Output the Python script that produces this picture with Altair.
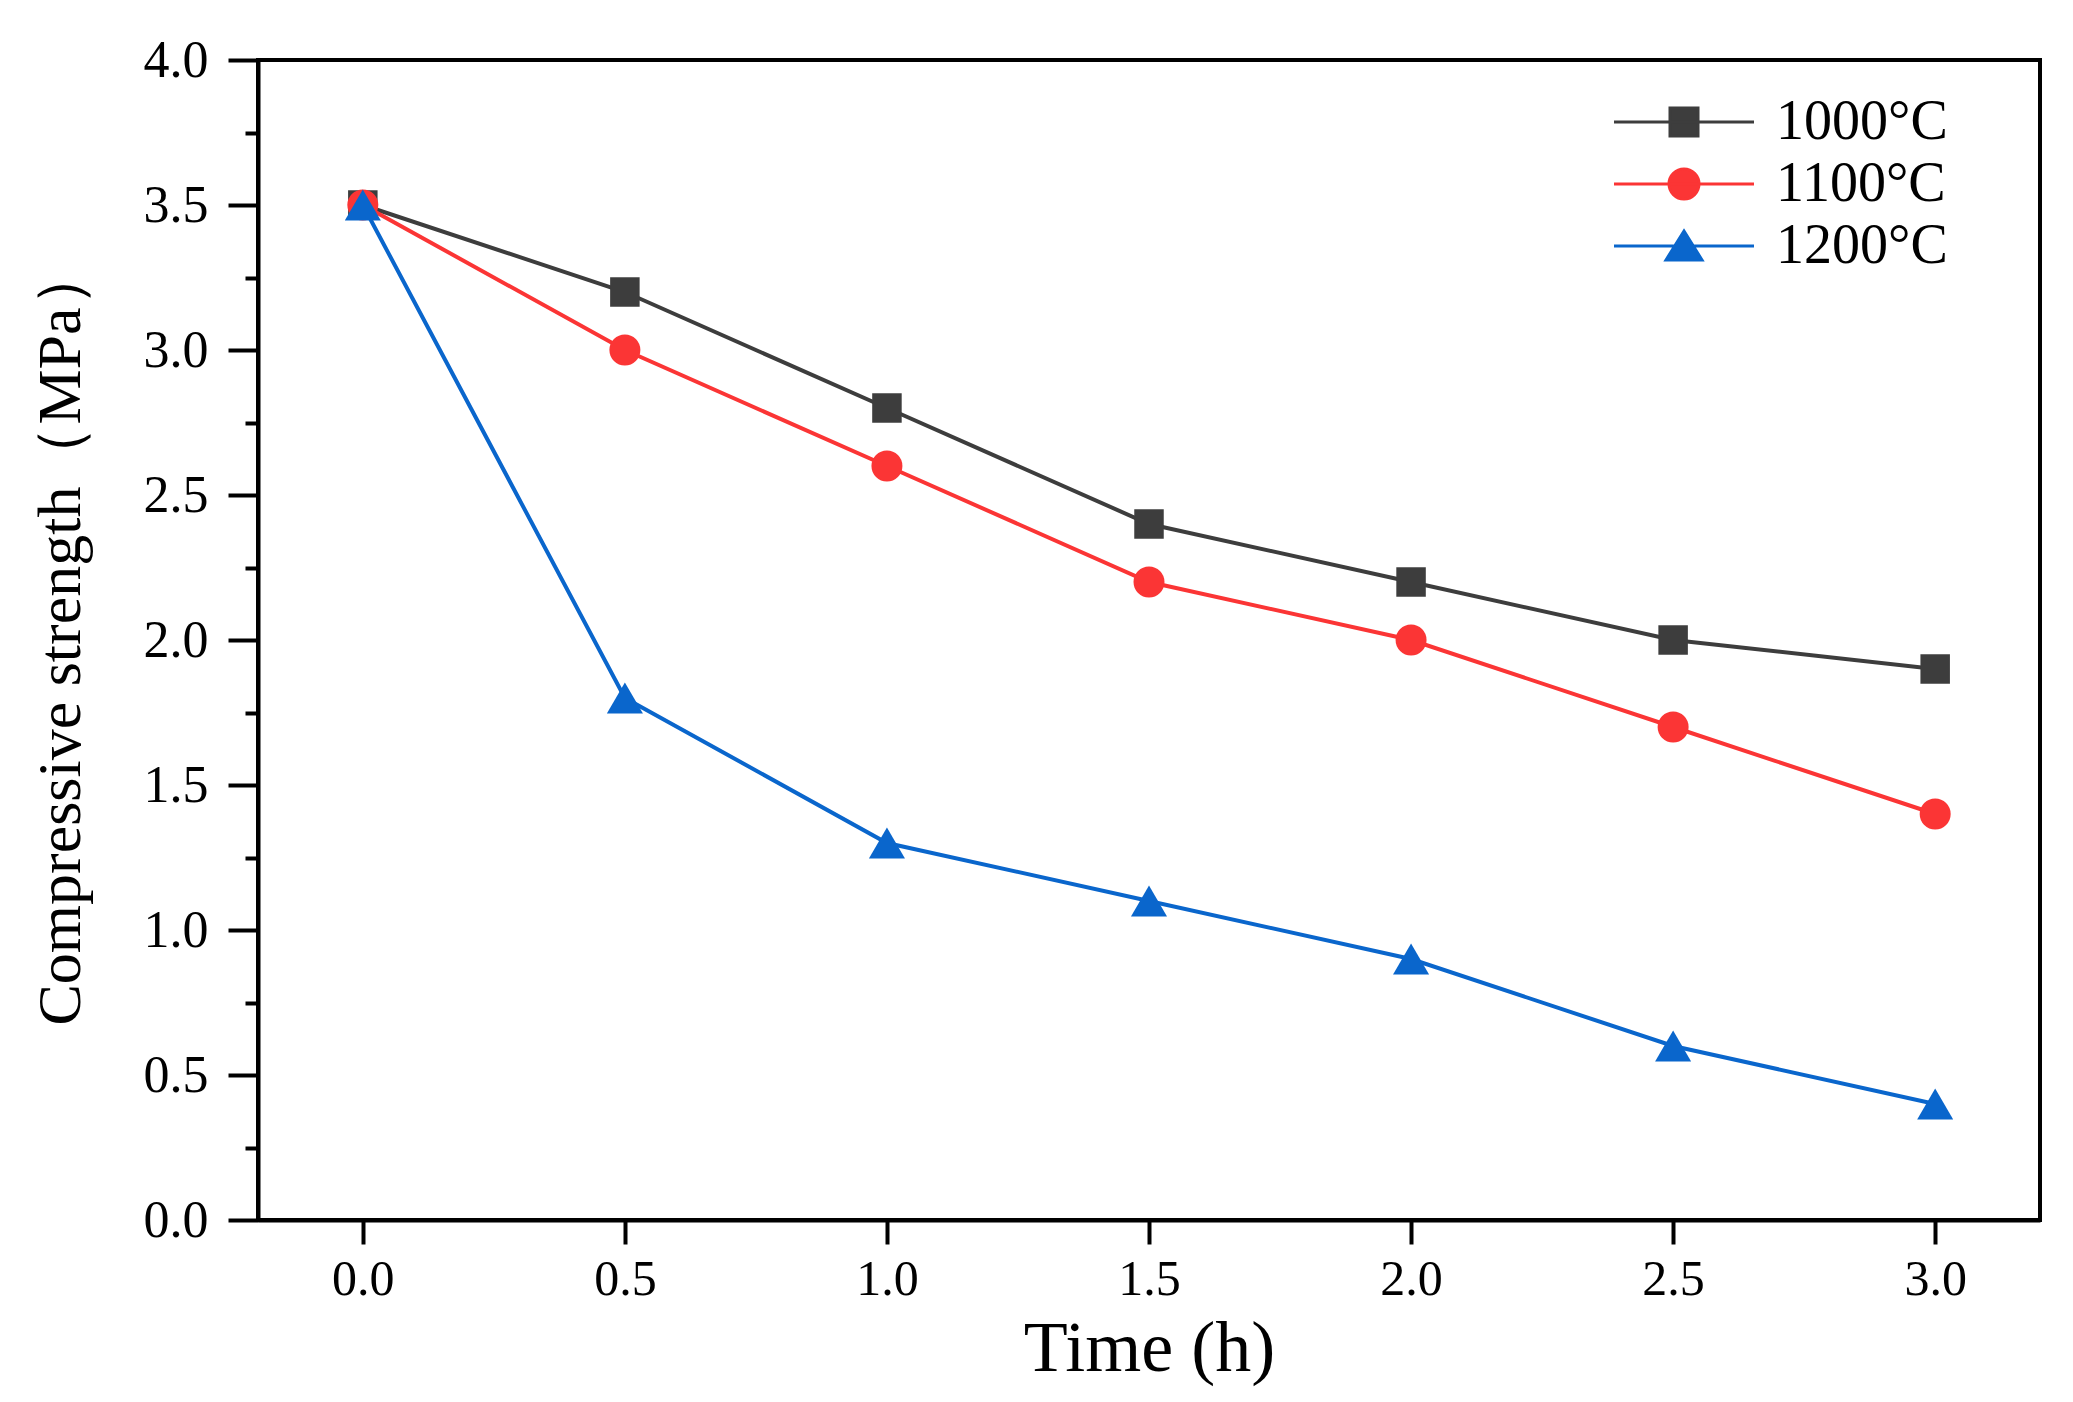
import altair as alt
import pandas as pd

# Data
time_h = [0.0, 0.5, 1.0, 1.5, 2.0, 2.5, 3.0]
temps = ["1000°C", "1100°C", "1200°C"]
strength_1000 = [3.5, 3.2, 2.8, 2.4, 2.2, 2.0, 1.9]
strength_1100 = [3.5, 3.0, 2.6, 2.2, 2.0, 1.7, 1.4]
strength_1200 = [3.5, 1.8, 1.3, 1.1, 0.9, 0.6, 0.4]

x_ticks = [0.0, 0.5, 1.0, 1.5, 2.0, 2.5, 3.0]
y_ticks = [i * 0.25 for i in range(17)]

colors = ["#3d3d3d", "#fb3535", "#0a66cc"]
shapes = ["square", "circle", "triangle-up"]
sizes = [870, 960, 1300]
# legend symbols: line through marker (unit = sqrt(size)/2 px)
legend_paths = [
    "M-3.5,0L3.5,0M-0.7,-0.7L0.7,-0.7L0.7,0.7L-0.7,0.7Z",
    "M-3.5,0L3.5,0M0.75,0C0.75,0.41,0.41,0.75,0,0.75C-0.41,0.75,-0.75,0.41,-0.75,0"
    "C-0.75,-0.41,-0.41,-0.75,0,-0.75C0.41,-0.75,0.75,-0.41,0.75,0Z",
    "M-3.5,0L3.5,0M0,-0.75L0.9,0.7L-0.9,0.7Z",
]

FONT = "Liberation Serif"

df = pd.DataFrame({
    "Time": time_h * 3,
    "Strength": strength_1000 + strength_1100 + strength_1200,
    "Temp": [t for t in temps for _ in time_h],
})

x_enc = alt.X(
    "Time:Q",
    scale=alt.Scale(domain=[-0.2, 3.2], nice=False, zero=False),
    axis=alt.Axis(
        values=x_ticks, format=".1f", grid=False,
        tickSize=24, tickWidth=4, tickColor="black",
        domainWidth=4, domainColor="black",
        labelFont=FONT, labelFontSize=50, labelColor="black",
        labelPadding=10, labelFlush=False, labelOverlap=False,
        title="Time (h)", titleFont=FONT, titleFontSize=72,
        titleFontWeight="normal", titleColor="black",
        titleY=150, titleBaseline="alphabetic",
    ),
)
y_enc = alt.Y(
    "Strength:Q",
    scale=alt.Scale(domain=[0, 4], nice=False),
    axis=alt.Axis(
        values=y_ticks, grid=False,
        labelExpr="datum.value % 0.5 === 0 ? format(datum.value, '.1f') : ''",
        tickSize={"condition": {"test": "datum.value % 0.5 === 0", "value": 30}, "value": 13},
        tickWidth=4, tickColor="black",
        domainWidth=4, domainColor="black",
        labelFont=FONT, labelFontSize=52, labelColor="black",
        labelPadding=20, labelFlush=False, labelOverlap=False,
        title="Compressive strength（MPa）", titleFont=FONT, titleFontSize=62,
        titleFontWeight="normal", titleColor="black",
        titleX=-198, titleY=575, titleAngle=-90,
        titleAlign="center", titleBaseline="middle",
    ),
)

base = alt.Chart(df).encode(x=x_enc, y=y_enc)

layers = []
for temp, col, shp, sz in zip(temps, colors, shapes, sizes):
    sub = base.transform_filter(alt.datum.Temp == temp)
    layers.append(sub.mark_line(strokeWidth=4, color=col))
    layers.append(
        sub.mark_point(shape=shp, size=sz, filled=True, opacity=1, strokeWidth=0, color=col)
    )

legend = alt.Legend(
    title=None, orient="none", legendX=1398, legendY=34,
    labelFont=FONT, labelFontSize=56, labelColor="black", labelLimit=400,
    labelOffset=64, symbolSize=1600, symbolStrokeWidth=3, symbolOpacity=1,
    rowPadding=6, padding=0,
)

# invisible layer that only provides the legend (line + marker symbols)
legend_layer = base.mark_point(
    filled=True, opacity=0, strokeWidth=3
).encode(
    fill=alt.Fill("Temp:N", scale=alt.Scale(domain=temps, range=colors), legend=legend),
    stroke=alt.Stroke("Temp:N", scale=alt.Scale(domain=temps, range=colors), legend=legend),
    shape=alt.Shape("Temp:N", scale=alt.Scale(domain=temps, range=legend_paths), legend=legend),
)
layers.append(legend_layer)

chart = alt.layer(*layers).properties(
    width=1782,
    height=1160,
    padding={"left": 250, "top": 52, "right": 23, "bottom": 170},
    autosize=alt.AutoSizeParams(type="none"),
    background="white",
).configure_view(stroke="black", strokeWidth=4)

chart.save("out.html", embed_options={"renderer": "svg", "actions": False})
